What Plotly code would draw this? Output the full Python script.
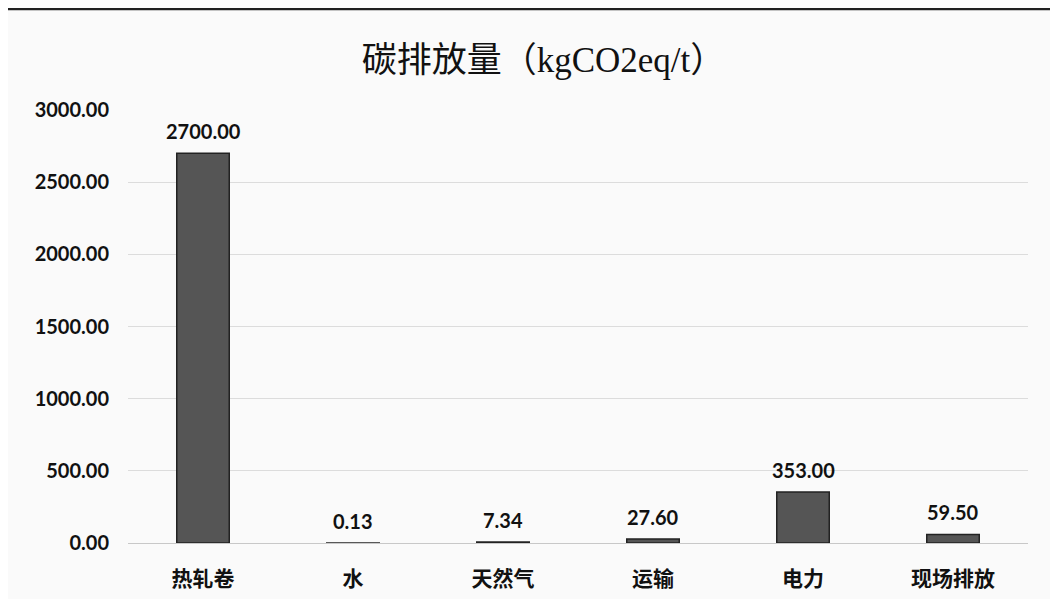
import plotly.graph_objects as go

categories = ["热轧卷", "水", "天然气", "运输", "电力", "现场排放"]
values = [2700.00, 0.13, 7.34, 27.60, 353.00, 59.50]
tick_vals = [0, 500, 1000, 1500, 2000, 2500, 3000]
tick_text = ["0.00", "500.00", "1000.00", "1500.00", "2000.00", "2500.00", "3000.00"]
title_text = "碳排放量（kgCO2eq/t）"

fig = go.Figure()
fig.add_trace(go.Bar(
    x=categories, y=values, width=0.35,
    marker=dict(color="#555555", line=dict(color="#222222", width=1.5)),
))
for c, v in zip(categories, values):
    fig.add_annotation(x=c, y=v, text=f"{v:.2f}", showarrow=False,
                       yanchor="bottom", yshift=8,
                       font=dict(family="Lato, Open Sans", size=20, color="#111", weight="bold"))
fig.update_layout(
    width=1050, height=591,
    paper_bgcolor="#fafafa", plot_bgcolor="#fafafa",
    margin=dict(l=120, r=30, t=102, b=56),
    title=dict(text=title_text, x=0.51, xanchor="center", y=0.912, yanchor="middle",
               font=dict(family="Liberation Serif, Noto Sans CJK SC", size=35, color="#111")),
    showlegend=False,
    shapes=[dict(type="line", xref="paper", yref="paper", x0=-0.15, x1=1.05,
                 y0=1.234, y1=1.234, line=dict(color="#222", width=3))],
)
fig.update_xaxes(
    tickfont=dict(family="Noto Sans CJK SC", size=21, color="#111", weight="bold"),
    showline=True, linecolor="#c8c8c8", linewidth=1, ticks="", showgrid=False,
    ticklabelstandoff=17, automargin=False,
)
fig.update_yaxes(
    range=[0, 3000], tickvals=tick_vals, ticktext=tick_text,
    tickfont=dict(family="Lato, Open Sans", size=20, color="#111", weight="bold"),
    showgrid=True, gridcolor="#dcdcdc", gridwidth=1, zeroline=False, ticks="",
    ticklabelstandoff=18, automargin=False,
)
fig.write_html("out.html")
